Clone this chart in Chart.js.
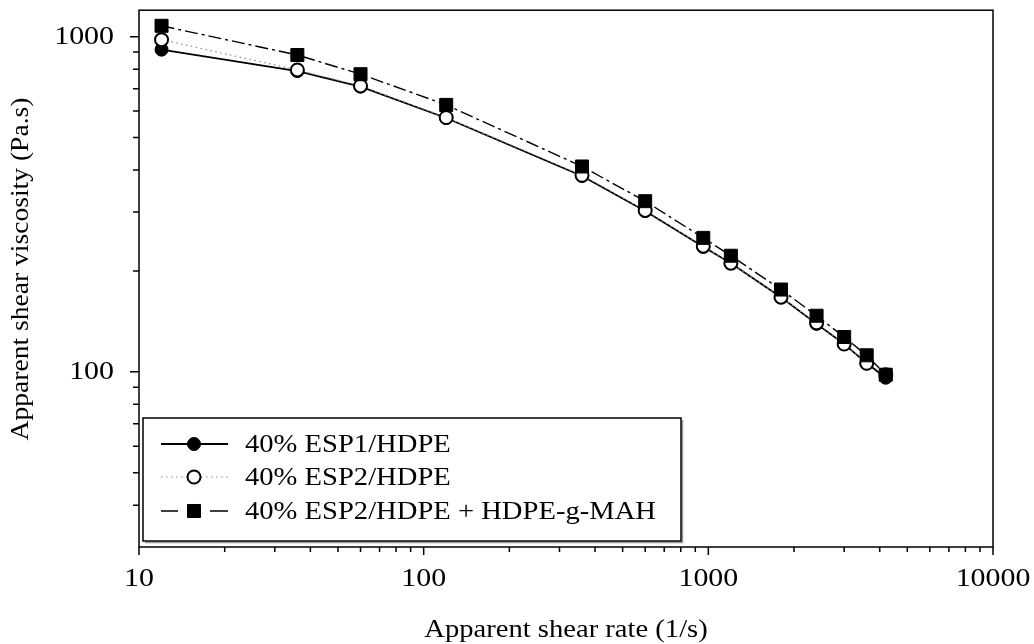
<!DOCTYPE html>
<html lang="en">
<head>
<meta charset="UTF-8"/>
<title>Apparent shear viscosity vs shear rate</title>
<script src="https://cdn.jsdelivr.net/npm/chart.js"></script>
<style>
  html, body { margin: 0; padding: 0; background: #fff; }
  #wrap { width: 1034px; height: 644px; }
</style>
</head>
<body>
<div id="wrap"><canvas id="viscChart" width="1034" height="644"></canvas></div>
<script>
// data
const shearRate = [12, 36, 60, 120, 360, 600, 960, 1200, 1800, 2400, 3000, 3600, 4200];
const esp1Hdpe = [915, 790, 710, 572, 384, 302, 236, 211, 167, 139, 121, 106, 96];
const esp2Hdpe = [980, 796, 713, 574, 386, 303, 237, 211, 167, 140, 121, 106, 98];
const esp2Mah  = [1078, 882, 773, 626, 410, 323, 251, 222, 176, 147, 127, 112, 98];
const seriesNames = ['40% ESP1/HDPE', '40% ESP2/HDPE', '40% ESP2/HDPE + HDPE-g-MAH'];

const xTickLabels = [10, 100, 1000, 10000];
const yTickLabels = [100, 1000];
const xMinorTicks = [20, 30, 40, 50, 60, 70, 80, 90, 200, 300, 400, 500, 600, 700, 800, 900,
                     2000, 3000, 4000, 5000, 6000, 7000, 8000, 9000];
const yMinorTicks = [40, 50, 60, 70, 80, 90, 200, 300, 400, 500, 600, 700, 800, 900];

const FONT = '"Liberation Serif", "Times New Roman", serif';
const SX = 1.1; // the original text is a bit wider than Times

function toPoints(ys) {
    return shearRate.map((x, i) => ({ x: x, y: ys[i] }));
}

function wideText(ctx, text, x, y, align, rot, sx) {
    ctx.save();
    ctx.translate(x, y);
    if (rot) ctx.rotate(rot);
    ctx.scale(sx || SX, 1);
    ctx.textAlign = align;
    ctx.textBaseline = 'middle';
    ctx.fillText(text, 0, 0);
    ctx.restore();
}

// frame, ticks, labels and legend box
const framePlugin = {
    id: 'framePlugin',
    afterDraw(chart) {
        const ctx = chart.ctx;
        const a = chart.chartArea;
        const xs = chart.scales.x, ys = chart.scales.y;
        ctx.save();
        ctx.strokeStyle = '#000';
        ctx.lineWidth = 1.5;
        ctx.strokeRect(a.left, a.top, a.right - a.left, a.bottom - a.top);

        ctx.beginPath();
        xTickLabels.forEach(v => { const p = xs.getPixelForValue(v); ctx.moveTo(p, a.bottom); ctx.lineTo(p, a.bottom + 8); });
        xMinorTicks.forEach(v => { const p = xs.getPixelForValue(v); ctx.moveTo(p, a.bottom); ctx.lineTo(p, a.bottom + 5); });
        yTickLabels.forEach(v => { const p = ys.getPixelForValue(v); ctx.moveTo(a.left, p); ctx.lineTo(a.left - 9, p); });
        yMinorTicks.forEach(v => { const p = ys.getPixelForValue(v); ctx.moveTo(a.left, p); ctx.lineTo(a.left - 6, p); });
        ctx.stroke();

        ctx.fillStyle = '#000';
        ctx.font = '26px ' + FONT;
        xTickLabels.forEach(v => wideText(ctx, String(v), xs.getPixelForValue(v), a.bottom + 32, 'center', 0, 1.15));
        yTickLabels.forEach(v => wideText(ctx, String(v), a.left - 25, ys.getPixelForValue(v), 'right', 0, 1.15));

        wideText(ctx, 'Apparent shear rate (1/s)', (a.left + a.right) / 2, 630, 'center');
        wideText(ctx, 'Apparent shear viscosity (Pa.s)', 21, 269, 'center', -Math.PI / 2, 1.06);

        // legend
        const bx = 143, by = 418, bw = 538, bh = 123;
        ctx.fillStyle = '#fff';
        ctx.fillRect(bx, by, bw, bh);
        ctx.strokeStyle = '#999';
        ctx.lineWidth = 1.5;
        ctx.beginPath();
        ctx.moveTo(bx + 2, by + bh + 1.5); ctx.lineTo(bx + bw + 1.5, by + bh + 1.5); ctx.lineTo(bx + bw + 1.5, by + 2);
        ctx.stroke();
        ctx.strokeStyle = '#000';
        ctx.strokeRect(bx, by, bw, bh);

        const rows = [444, 477, 511];
        const l0 = 161, l1 = 228, mx = 194;
        chart.data.datasets.forEach((ds, i) => {
            const y = rows[i];
            ctx.save();
            ctx.strokeStyle = ds.borderColor;
            ctx.lineWidth = ds.borderWidth;
            ctx.beginPath();
            if (i === 1) {
                ctx.setLineDash(ds.borderDash);
                ctx.moveTo(l0, y); ctx.lineTo(l1, y);
            } else if (i === 2) {
                ctx.moveTo(l0, y); ctx.lineTo(178, y);
                ctx.moveTo(210, y); ctx.lineTo(l1, y);
            } else {
                ctx.moveTo(l0, y); ctx.lineTo(l1, y);
            }
            ctx.stroke();
            ctx.restore();
            ctx.save();
            ctx.fillStyle = ds.pointBackgroundColor;
            ctx.strokeStyle = ds.pointBorderColor;
            ctx.lineWidth = ds.pointBorderWidth;
            Chart.helpers.drawPoint(ctx, {
                pointStyle: ds.pointStyle, radius: ds.pointRadius,
                rotation: 0, borderWidth: ds.pointBorderWidth
            }, mx, y);
            ctx.restore();
            ctx.fillStyle = '#000';
            ctx.font = '26px ' + FONT;
            wideText(ctx, seriesNames[i], 245, y + 1, 'left');
        });
        ctx.restore();
    }
};

new Chart(document.getElementById('viscChart'), {
    type: 'line',
    data: {
        datasets: [
            {
                label: seriesNames[0], data: toPoints(esp1Hdpe), order: 2,
                borderColor: '#000', borderWidth: 1.8,
                pointStyle: 'circle', pointRadius: 6.5,
                pointBackgroundColor: '#000', pointBorderColor: '#000', pointBorderWidth: 1
            },
            {
                label: seriesNames[1], data: toPoints(esp2Hdpe), order: 1,
                borderColor: '#8a8a8a', borderWidth: 1.2, borderDash: [1.5, 3.5],
                pointStyle: 'circle', pointRadius: 6.5,
                pointBackgroundColor: '#fff', pointBorderColor: '#000', pointBorderWidth: 2
            },
            {
                label: seriesNames[2], data: toPoints(esp2Mah), order: 0,
                borderColor: '#000', borderWidth: 1.4, borderDash: [13, 4, 3, 4],
                pointStyle: 'rect', pointRadius: 9.2,
                pointBackgroundColor: '#000', pointBorderColor: '#000', pointBorderWidth: 1
            }
        ]
    },
    options: {
        responsive: false,
        animation: false,
        layout: { padding: { top: 9, right: 41, left: 0, bottom: 0 } },
        plugins: { legend: { display: false }, tooltip: { enabled: false } },
        elements: { line: { tension: 0, fill: false } },
        scales: {
            x: {
                type: 'logarithmic', min: 10, max: 10000, position: 'bottom',
                grid: { display: false }, border: { display: false },
                ticks: { display: false },
                afterFit: s => { s.height = 97; }
            },
            y: {
                type: 'logarithmic', min: 30, max: 1200, position: 'left',
                grid: { display: false }, border: { display: false },
                ticks: { display: false },
                afterFit: s => { s.width = 139; }
            }
        }
    },
    plugins: [framePlugin]
});
</script>
</body>
</html>
